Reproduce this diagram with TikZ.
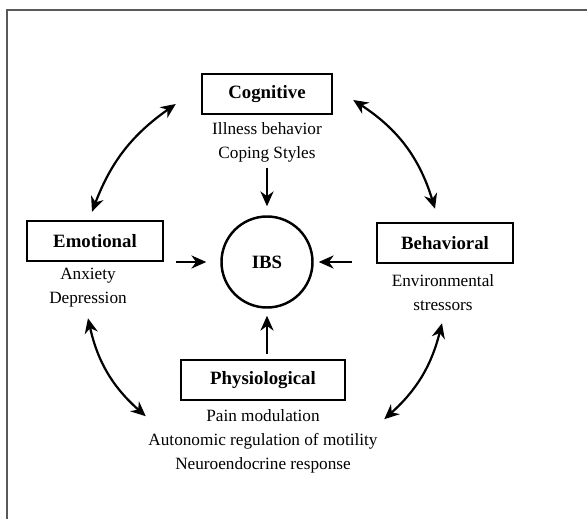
\documentclass[tikz,border=0pt]{standalone}
\usepackage{fontspec}
\setmainfont{Liberation Serif}
\usetikzlibrary{arrows.meta}
\tikzset{
  caixa/.style={draw, line width=1.4pt, minimum height=0.8cm, inner sep=0pt, font=\fontsize{10.7}{13}\selectfont\bfseries},
  texto/.style={align=center, inner sep=0pt, font=\fontsize{9.8}{13.6}\selectfont},
  seta/.style={line width=1.25pt, -{Stealth[length=8.5pt,width=7.5pt]}},
  dupla/.style={line width=1.25pt, {Stealth[length=8.5pt,width=7.5pt]}-{Stealth[length=8.5pt,width=7.5pt]}},
}
\begin{document}
\begin{tikzpicture}
            \useasboundingbox (0,0) rectangle (11.74,10.38);
            %moldura
            \draw[black!65, line width=1.2pt] (0.14,0) -- (0.14,10.18) -- (11.74,10.18);

            %caixas
            \draw (5.34, 8.50) node[caixa, minimum width=2.6cm](cog){Cognitive}
            (5.34, 7.53) node[texto](cogtxt){Illness behavior\\Coping Styles}
            (1.90, 5.56) node[caixa, minimum width=2.72cm](emo){Emotional}
            (1.76, 4.62) node[texto](emotxt){Anxiety\\Depression}
            (8.90, 5.52) node[caixa, minimum width=2.72cm](beh){Behavioral}
            (8.86, 4.52) node[texto](behtxt){Environmental\\stressors}
            (5.26, 2.78) node[caixa, minimum width=3.28cm](phy){Physiological}
            (5.26, 1.56) node[texto](phytxt){Pain modulation\\Autonomic regulation of motility\\Neuroendocrine response}
            (5.34, 5.14) node[caixa, circle, minimum size=1.82cm](ibs){IBS};

            %setas para IBS
            \draw[seta, shorten <=0.1cm, shorten >=0.18cm] (ibs.north |- cogtxt.south) -- (ibs.north);
            \draw[seta, shorten <=0.24cm, shorten >=0.28cm] (emo.east |- ibs.west) -- (ibs.west);
            \draw[seta, shorten <=0.48cm, shorten >=0.1cm] (beh.west |- ibs.east) -- (ibs.east);
            \draw[seta, shorten <=0.1cm, shorten >=0.14cm] (ibs.south |- phy.north) -- (ibs.south);

            %setas duplas
            \draw[dupla] ([shift={(-0.06,0.16)}]emo.north) to[bend left=17] ([shift={(-0.5,-0.2)}]cog.west);
            \draw[dupla] ([shift={(0.4,-0.12)}]cog.east) to[bend left=20] ([shift={(-0.2,0.26)}]beh.north);
            \draw[dupla] ([shift={(-0.14,-1.12)}]emo.south) to[bend right=18] ([shift={(-0.68,-0.3)}]phy.south west);
            \draw[dupla] ([shift={(-0.06,-1.18)}]beh.south) to[bend left=17] ([shift={(0.76,-0.36)}]phy.south east);
        \end{tikzpicture}
\end{document}
